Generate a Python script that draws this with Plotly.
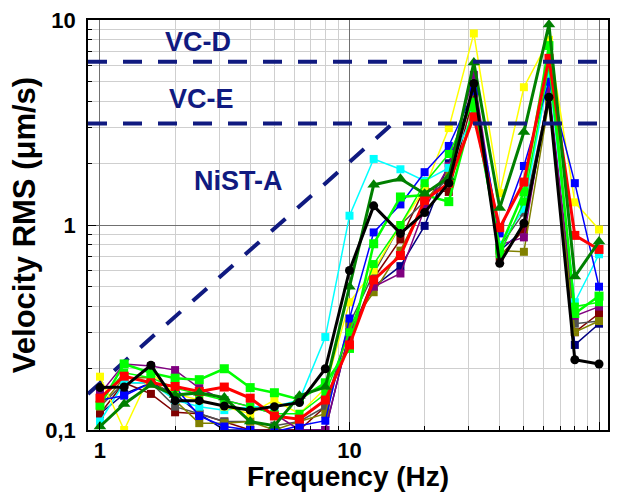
import plotly.graph_objects as go

freqs = [1, 1.25, 1.6, 2, 2.5, 3.15, 4, 5, 6.3, 8, 10, 12.5, 16, 20, 25, 31.5, 40, 50, 63, 80, 100]

navy = [0.12, 0.15, 0.17, 0.15, 0.12, 0.1, 0.1, 0.1, 0.1, 0.1, 0.3, 0.5, 0.63, 0.99, 2.0, 4.5, 0.75, 0.95, 4.3, 0.26, 0.33]
maroon = [0.12, 0.17, 0.15, 0.122, 0.12, 0.11, 0.1, 0.1, 0.1, 0.13, 0.28, 0.55, 0.85, 1.51, 1.45, 4.3, 0.7, 0.95, 4.4, 0.30, 0.37]
dgray = [0.13, 0.17, 0.17, 0.13, 0.12, 0.11, 0.11, 0.105, 0.11, 0.13, 0.33, 0.58, 1.0, 1.3, 1.7, 4.6, 0.78, 1.15, 4.3, 0.33, 0.34]
olive = [0.13, 0.18, 0.18, 0.14, 0.108, 0.108, 0.11, 0.1, 0.11, 0.12, 0.32, 0.47, 0.75, 1.3, 1.8, 4.5, 0.75, 0.74, 4.0, 0.3, 0.34]
purple = [0.15, 0.21, 0.205, 0.196, 0.16, 0.14, 0.13, 0.12, 0.1, 0.1, 0.3, 0.5, 0.58, 1.2, 1.94, 5.4, 0.8, 0.87, 4.6, 0.36, 0.40]
cyan = [0.11, 0.17, 0.17, 0.14, 0.13, 0.125, 0.13, 0.13, 0.14, 0.284, 1.11, 2.1, 1.87, 1.64, 1.9, 3.5, 0.8, 1.2, 5.5, 0.42, 0.72]
yellow = [0.182, 0.1, 0.19, 0.15, 0.14, 0.13, 0.12, 0.14, 0.12, 0.16, 0.42, 0.6, 1.0, 1.5, 2.97, 8.6, 1.43, 4.7, 8.0, 1.29, 0.95]
blue = [0.14, 0.147, 0.17, 0.162, 0.117, 0.104, 0.1, 0.098, 0.105, 0.111, 0.35, 0.92, 1.26, 1.81, 2.43, 4.5, 0.91, 1.94, 5.0, 1.6, 0.5]
lime2 = [0.14, 0.19, 0.18, 0.16, 0.15, 0.14, 0.13, 0.12, 0.12, 0.15, 0.3, 0.645, 1.0, 1.6, 2.22, 4.0, 0.72, 1.3, 6.0, 0.4, 0.42]
lime = [0.132, 0.21, 0.19, 0.179, 0.176, 0.199, 0.161, 0.152, 0.141, 0.17, 0.25, 0.81, 1.37, 1.4, 1.3, 3.77, 0.77, 1.45, 7.5, 0.37, 0.45]
red = [0.143, 0.183, 0.17, 0.163, 0.154, 0.162, 0.143, 0.117, 0.113, 0.14, 0.26, 0.54, 0.71, 1.32, 1.6, 3.37, 0.97, 1.62, 6.5, 0.89, 0.76]
green = [0.104, 0.134, 0.166, 0.148, 0.152, 0.144, 0.11, 0.105, 0.147, 0.162, 0.5, 1.57, 1.68, 1.42, 1.71, 6.2, 1.21, 2.84, 9.5, 0.56, 0.83]
black = [0.161, 0.162, 0.207, 0.139, 0.139, 0.131, 0.125, 0.13, 0.136, 0.199, 0.6, 1.24, 0.91, 1.15, 1.6, 4.9, 0.65, 1.02, 4.2, 0.22, 0.21]

vc_levels = [6.25, 3.125]
vc_labels = ["VC-D", "VC-E"]
nist_f = [0.895, 14.8]
nist_v = [0.15, 3.1]

NAVY = "#101a80"

series = [
    (navy, "#000080", "square", 1.5, 8),
    (maroon, "#800000", "square", 1.5, 8),
    (dgray, "#505050", "square", 1.5, 8),
    (olive, "#808000", "square", 1.5, 8),
    (purple, "#800080", "square", 1.5, 8),
    (cyan, "#00FFFF", "square", 1.5, 8),
    (yellow, "#FFFF00", "square", 1.5, 8),
    (blue, "#0000FF", "square", 1.5, 8),
    (lime2, "#00FF00", "square", 1.5, 8),
    (lime, "#00FF00", "square", 2.5, 9),
    (red, "#FF0000", "square", 3, 9),
    (green, "#008000", "triangle-up", 3, 11),
    (black, "#000000", "circle", 3, 9),
]

fig = go.Figure()

# NIST-A diagonal
fig.add_trace(go.Scatter(x=nist_f, y=nist_v, mode="lines",
                         line=dict(color=NAVY, width=4, dash="19px,16px"),
                         showlegend=False, hoverinfo="skip"))

for vals, col, sym, lw, ms in series:
    fig.add_trace(go.Scatter(x=freqs, y=vals, mode="lines+markers",
                             line=dict(color=col, width=lw),
                             marker=dict(symbol=sym, size=ms, color=col, line=dict(width=0)),
                             showlegend=False, cliponaxis=True))

for lvl in vc_levels:
    fig.add_hline(y=lvl, line=dict(color=NAVY, width=4, dash="19px,16px"))

ann_font = dict(family="Liberation Sans, Arial", size=27, color=NAVY, weight="bold")
fig.add_annotation(x=0.393, y=0.893, text=vc_labels[0], showarrow=False, font=ann_font)
fig.add_annotation(x=0.405, y=0.615, text=vc_labels[1], showarrow=False, font=ann_font)
fig.add_annotation(x=0.557, y=0.215, text="NiST-A", showarrow=False, font=ann_font)

tick_font = dict(family="Liberation Sans, Arial", size=22, color="black", weight="bold")
xtitle_font = dict(family="Liberation Sans, Arial", size=28, color="black", weight="bold")
ytitle_font = dict(family="Liberation Sans, Arial", size=31, color="black", weight="bold")

fig.update_layout(
    width=617, height=492,
    margin=dict(l=88, r=9, t=20, b=62),
    paper_bgcolor="white", plot_bgcolor="white",
    xaxis=dict(type="log", range=[-0.048, 2.036], automargin=False,
               tickvals=[1, 10, 100], ticktext=["1", "10", "100"],
               tickfont=tick_font,
               title=dict(text="Frequency (Hz)", font=xtitle_font, standoff=3),
               showline=True, linecolor="black", linewidth=1.5, mirror=True,
               showgrid=True, gridcolor="#707070", gridwidth=1,
               ticks="inside", ticklen=8, tickcolor="black",
               minor=dict(tickvals=[2, 3, 4, 5, 6, 7, 8, 9, 20, 30, 40, 50, 60, 70, 80, 90],
                          showgrid=True, gridcolor="#cfcfcf", gridwidth=1,
                          ticks="inside", ticklen=4, tickcolor="black"),
               zeroline=False),
    yaxis=dict(type="log", range=[-1, 1], automargin=False,
               tickvals=[0.1, 1, 10], ticktext=["0,1", "1", "10"],
               tickfont=tick_font, ticklabelstandoff=6,
               title=dict(text="Velocity RMS (\u03bcm/s)", font=ytitle_font, standoff=0),
               showline=True, linecolor="black", linewidth=1.5, mirror=True,
               showgrid=True, gridcolor="#707070", gridwidth=1,
               ticks="inside", ticklen=8, tickcolor="black",
               minor=dict(tickvals=[0.2, 0.3, 0.4, 0.5, 0.6, 0.7, 0.8, 0.9, 2, 3, 4, 5, 6, 7, 8, 9],
                          showgrid=True, gridcolor="#cfcfcf", gridwidth=1,
                          ticks="inside", ticklen=4, tickcolor="black"),
               zeroline=False),
)

fig.write_html("out.html", config={"displayModeBar": False},
               post_script="document.body.style.margin='0';")
